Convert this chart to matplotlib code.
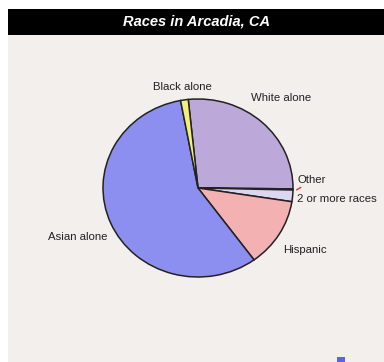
import matplotlib
matplotlib.use('Agg')
import matplotlib.pyplot as plt
from matplotlib.patches import Rectangle

BG = '#F2EFEC'
plt.rcParams.update({'font.family': ['Liberation Sans', 'DejaVu Sans']})

# share of population, % (clockwise from 12 o'clock)
groups = ['White alone', 'Other', '2 or more races', 'Hispanic', 'Asian alone', 'Black alone']
shares = [26.8, 0.2, 2.1, 12.5, 57.1, 1.3]
colors = ['#BDA8DA', '#8A6A3A', '#DDD6F0', '#F4B1B1', '#8C8FF0', '#F2F07A']

W, H = 384, 362
fig = plt.figure(figsize=(W / 100, H / 100), dpi=100)
fig.patch.set_facecolor('white')

# panel background and title bar
fig.patches.append(Rectangle((8 / W, 0), 1, (H - 35) / H, transform=fig.transFigure,
                             facecolor=BG, edgecolor='none', zorder=-2))
fig.patches.append(Rectangle((8 / W, (H - 35) / H), 1, 26 / H, transform=fig.transFigure,
                             facecolor='black', edgecolor='none', zorder=-2))
fig.text(197 / W, (H - 22) / H, 'Races in Arcadia, CA', color='white', fontsize=10.5,
         fontweight='bold', fontstyle='italic', ha='center', va='center')

# pie (slightly squashed vertically)
cx, cy, rx, ry = 198, 188, 95, 89
ax = fig.add_axes([(cx - rx) / W, (H - cy - ry) / H, 2 * rx / W, 2 * ry / H])
ax.pie(shares, colors=colors, startangle=95.9, counterclock=False,
       wedgeprops=dict(edgecolor='#222222', linewidth=1.1))
ax.set_aspect('auto')
ax.set_xlim(-1, 1)
ax.set_ylim(-1, 1)
ax.axis('off')

# tiny red sliver next to "Other"
ax.plot([1.04, 1.08], [-0.02, 0.005], color='#E8322E', lw=1.0, clip_on=False)

labels = {
    'Black alone': (182, 87, 'center'),
    'White alone': (251, 98, 'left'),
    'Other': (297, 180, 'left'),
    '2 or more races': (297, 199, 'left'),
    'Hispanic': (283, 250, 'left'),
    'Asian alone': (108, 237, 'right'),
}
for name, (x, y, ha) in labels.items():
    fig.text(x / W, (H - y) / H, name, fontsize=8.2, color='#222222', ha=ha, va='center')

# legend swatch partly visible at the bottom edge
fig.patches.append(Rectangle((337 / W, 0), 8 / W, 5 / H, transform=fig.transFigure,
                             facecolor='#5B63E6', edgecolor='none'))

fig.savefig('out.png', dpi=100, facecolor='white')
